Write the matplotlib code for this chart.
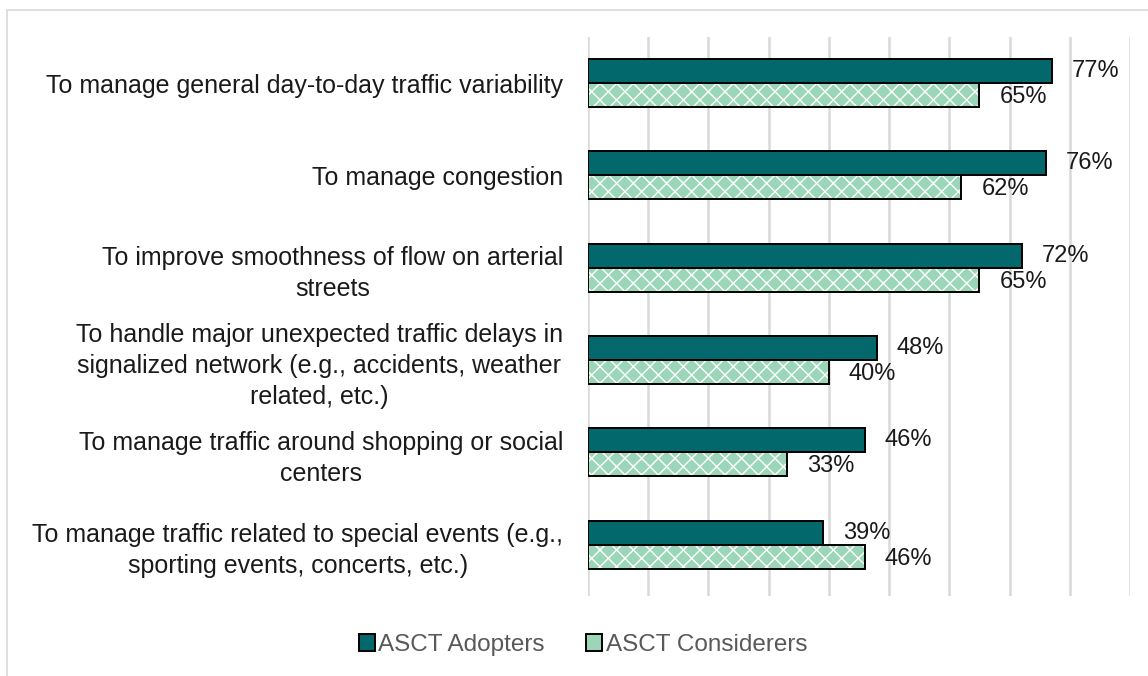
import matplotlib
matplotlib.use("Agg")
import matplotlib.pyplot as plt
import numpy as np
from matplotlib.patches import Rectangle, Patch

categories = [
    "To manage general day-to-day traffic variability",
    "To manage congestion",
    "To improve smoothness of flow on arterial\nstreets",
    "To handle major unexpected traffic delays in\nsignalized network (e.g., accidents, weather\nrelated, etc.)",
    "To manage traffic around shopping or social\ncenters",
    "To manage traffic related to special events (e.g.,\nsporting events, concerts, etc.)",
]
adopters = [77, 76, 72, 48, 46, 39]
considerers = [65, 62, 65, 40, 33, 46]
series_names = ["ASCT Adopters", "ASCT Considerers"]

plt.rcParams["font.family"] = ["Liberation Sans", "DejaVu Sans"]
plt.rcParams["hatch.linewidth"] = 1.0

dark = "#03686b"
light = "#9cd6b9"

fig = plt.figure(figsize=(11.48, 6.76), dpi=100)
ax = fig.add_axes([588 / 1148, 1 - 596 / 676, (1130 - 588) / 1148, (596 - 37) / 676])

# light frame around the chart
fig.patches.append(Rectangle((7 / 1148, -0.1), 1.2, 1 - 10 / 676 + 0.1, transform=fig.transFigure,
                             fill=False, edgecolor="#d9d9d9", linewidth=1.2))

y = np.arange(len(categories))
h = 0.26
ax.barh(y - h / 2, adopters, height=h, color=dark, edgecolor="black", linewidth=1.4, zorder=3)
ax.barh(y + h / 2, considerers, height=h, color=light, edgecolor="white", hatch="xx", linewidth=0, zorder=3)
ax.barh(y + h / 2, considerers, height=h, fill=False, edgecolor="black", linewidth=1.4, zorder=4)

for yi, v in zip(y, adopters):
    ax.text(v + 3.3, yi - h / 2, f"{v}%", va="center", ha="left", fontsize=17, color="#1a1a1a")
for yi, v in zip(y, considerers):
    ax.text(v + 3.3, yi + h / 2 + 0.02, f"{v}%", va="center", ha="left", fontsize=17, color="#1a1a1a")

ax.set_xlim(0, 90)
ax.set_ylim(5.556, -0.5)
ax.set_xticks(np.arange(0, 91, 10))
ax.set_xticklabels([])
ax.grid(axis="x", color="#d9d9d9", linewidth=1.8, zorder=0)
ax.set_yticks(y)
ax.set_yticklabels(categories, fontsize=18, ha="right", multialignment="center",
                   linespacing=1.35, color="#1a1a1a")
ax.tick_params(axis="y", length=0, pad=18)
ax.tick_params(axis="x", length=0)
for s in ax.spines.values():
    s.set_visible(False)

handles = [Patch(facecolor=dark, edgecolor="black", linewidth=1.4),
           Patch(facecolor=light, edgecolor="black", linewidth=1.4)]
fig.legend(handles, series_names, loc="center", bbox_to_anchor=(583 / 1148, 1 - 645 / 676), ncol=2,
           frameon=False, fontsize=17.5, handlelength=0.65, handleheight=0.65, handletextpad=0.15,
           columnspacing=1.7, labelcolor="#595959")

fig.savefig("out.png", dpi=100)
